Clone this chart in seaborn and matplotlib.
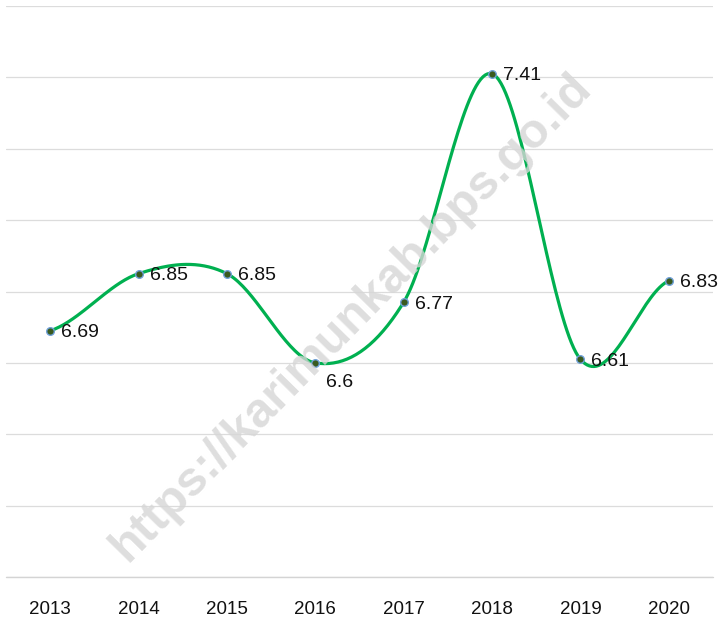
import numpy as np
import matplotlib
matplotlib.use('Agg')
import matplotlib.pyplot as plt
import seaborn as sns

# Data
years = ['2013', '2014', '2015', '2016', '2017', '2018', '2019', '2020']
values = [6.69, 6.85, 6.85, 6.6, 6.77, 7.41, 6.61, 6.83]
labels = ['6.69', '6.85', '6.85', '6.6', '6.77', '7.41', '6.61', '6.83']

sns.set_style('white')
plt.rcParams['font.family'] = ['Liberation Sans', 'DejaVu Sans']

fig = plt.figure(figsize=(7.18, 6.17), dpi=100)
ax = fig.add_axes([6 / 718, 40 / 617, 707 / 718, 571 / 617])

# Smooth line (Catmull-Rom style, like a spreadsheet "smoothed line")
x = np.arange(len(values), dtype=float)
y = np.array(values)
yp = np.concatenate([[y[0]], y, [y[-1]]])
xs, ys = [], []
for i in range(len(y) - 1):
    p0, p1, p2, p3 = yp[i], yp[i + 1], yp[i + 2], yp[i + 3]
    t = np.linspace(0, 1, 40)
    seg = 0.5 * ((2 * p1) + (-p0 + p2) * t + (2 * p0 - 5 * p1 + 4 * p2 - p3) * t ** 2
                 + (-p0 + 3 * p1 - 3 * p2 + p3) * t ** 3)
    xs.extend(x[i] + t)
    ys.extend(seg)

sns.lineplot(x=xs, y=ys, ax=ax, color='#00B050', linewidth=2.3, sort=False, zorder=2)
sns.scatterplot(x=x, y=y, ax=ax, color='#3A5A1E', edgecolor='#6FA0D8',
                s=30, linewidth=1.0, zorder=3)

# Value labels
for xi, yi, lab in zip(x, y, labels):
    if lab == '6.6':
        ax.annotate(lab, (xi, yi), xytext=(24, -20), textcoords='offset pixels',
                    ha='center', va='center', fontsize=14, color='#111111')
    else:
        ax.annotate(lab, (xi, yi), xytext=(11, -2), textcoords='offset pixels',
                    ha='left', va='center', fontsize=14, color='#111111')

ax.set_xlim(-0.5, 7.5)
ax.set_ylim(6.0, 7.6)
ax.set_yticks(np.arange(6.0, 7.61, 0.2))
ax.set_yticklabels([])
ax.set_xticks(x)
ax.set_xticklabels(years, fontsize=13.5, color='#111111')
ax.tick_params(axis='both', length=0)
ax.tick_params(axis='x', pad=17)
ax.grid(axis='y', color='#dcdcdc', linewidth=0.9)
ax.axhline(6.0, color='#d4d4d4', linewidth=1.0, clip_on=False, zorder=1)
sns.despine(ax=ax, left=True, top=True, right=True, bottom=True)

# Watermark
fig.text(0.49, 0.485, 'https://karimunkab.bps.go.id', fontsize=35, fontweight='bold',
         color='#d6d6d6', alpha=0.8, rotation=45.5, ha='center', va='center',
         family='Liberation Sans', zorder=0)

fig.savefig('out.png', dpi=100)
